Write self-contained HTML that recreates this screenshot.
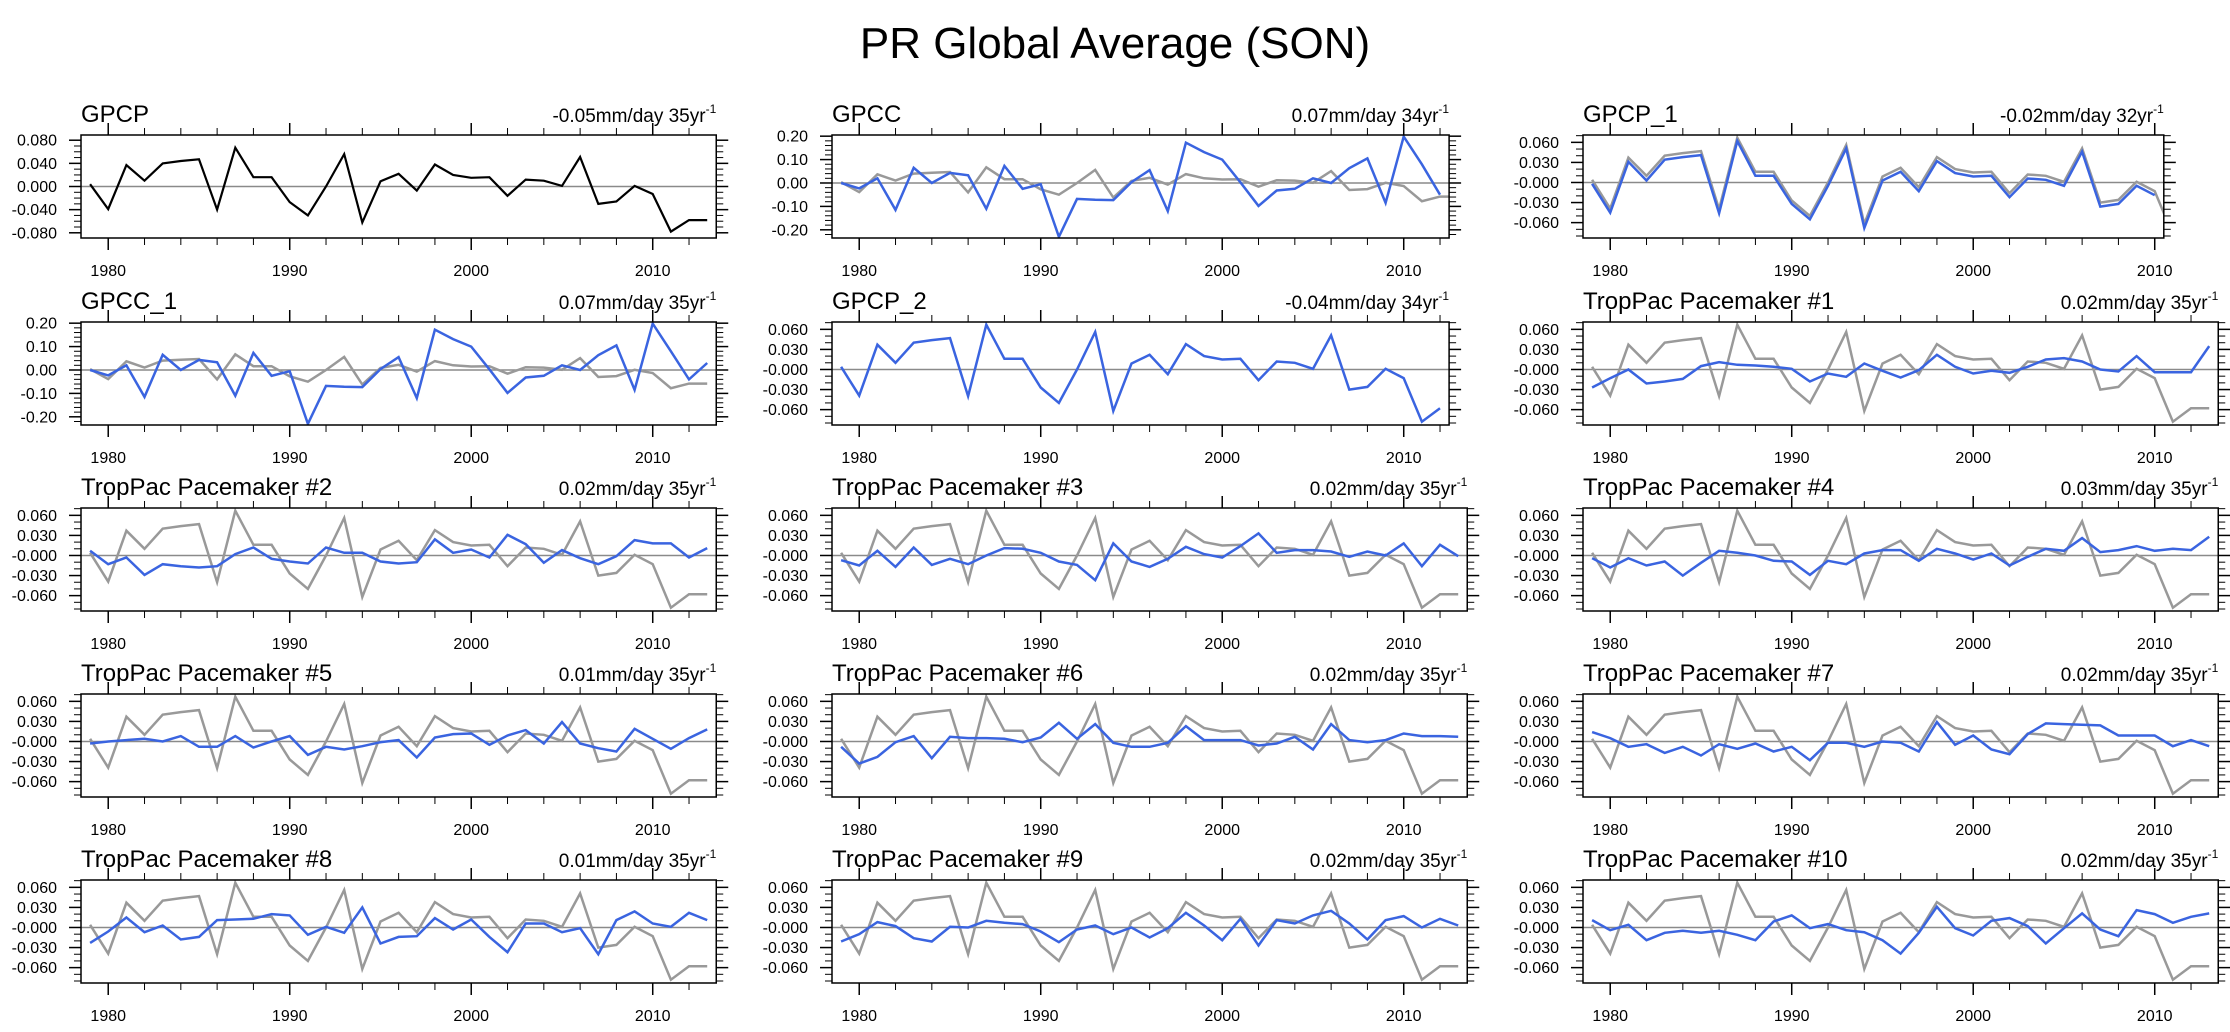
<!DOCTYPE html>
<html><head><meta charset="utf-8">
<style>
html,body{margin:0;padding:0;background:#fff;}
svg{display:block;font-family:"Liberation Sans",Arial,sans-serif;}
</style></head>
<body>
<svg id="fig" width="2230" height="1032" viewBox="0 0 2230 1032" xmlns="http://www.w3.org/2000/svg">
<text x="1115" y="58" text-anchor="middle" font-size="44">PR Global Average (SON)</text>
</svg>
<script>
const yearsStart = 1979;
const gpcp = [0.004,-0.039,0.037,0.010,0.040,0.044,0.047,-0.040,0.067,0.016,0.016,-0.027,-0.050,0.000,0.056,-0.062,0.009,0.022,-0.007,0.038,0.020,0.015,0.016,-0.016,0.012,0.010,0.001,0.051,-0.030,-0.026,0.001,-0.013,-0.078,-0.058,-0.058];
const gpcc = [0.000,-0.023,0.020,-0.115,0.065,0.000,0.043,0.033,-0.110,0.073,-0.025,-0.005,-0.230,-0.068,-0.072,-0.073,0.004,0.055,-0.120,0.172,0.132,0.100,0.003,-0.098,-0.032,-0.025,0.020,0.000,0.063,0.105,-0.085,0.198,0.080,-0.050];
const gpcc1 = [0.000,-0.023,0.020,-0.115,0.065,0.000,0.043,0.033,-0.110,0.073,-0.025,-0.005,-0.230,-0.068,-0.072,-0.073,0.004,0.055,-0.120,0.172,0.132,0.100,0.003,-0.098,-0.032,-0.025,0.020,0.000,0.063,0.105,-0.085,0.198,0.080,-0.040,0.030];
const gpcp1 = [-0.002,-0.045,0.031,0.003,0.034,0.038,0.041,-0.046,0.062,0.010,0.010,-0.032,-0.055,-0.005,0.051,-0.068,0.003,0.016,-0.013,0.032,0.014,0.009,0.010,-0.022,0.006,0.004,-0.005,0.046,-0.036,-0.032,-0.005,-0.019];
const gpcp2 = [0.004,-0.039,0.037,0.010,0.040,0.044,0.047,-0.040,0.067,0.016,0.016,-0.027,-0.050,0.000,0.056,-0.062,0.009,0.022,-0.007,0.038,0.020,0.015,0.016,-0.016,0.012,0.010,0.001,0.051,-0.030,-0.026,0.001,-0.013,-0.078,-0.058];
const pm1 = [-0.027,-0.013,0.000,-0.021,-0.018,-0.014,0.005,0.011,0.007,0.006,0.004,0.001,-0.018,-0.006,-0.011,0.009,-0.002,-0.012,-0.001,0.022,0.004,-0.006,-0.002,-0.005,0.004,0.015,0.017,0.012,0.000,-0.003,0.020,-0.004,-0.004,-0.004,0.035];
const pm2 = [0.007,-0.013,-0.003,-0.029,-0.013,-0.016,-0.018,-0.016,0.002,0.012,-0.005,-0.009,-0.012,0.012,0.004,0.004,-0.009,-0.012,-0.010,0.024,0.004,0.009,-0.003,0.031,0.017,-0.011,0.008,-0.004,-0.013,-0.001,0.023,0.018,0.018,-0.003,0.011];
const pm3 = [-0.007,-0.015,0.007,-0.017,0.012,-0.014,-0.005,-0.013,0.000,0.011,0.010,0.004,-0.009,-0.014,-0.037,0.018,-0.009,-0.017,-0.005,0.013,0.002,-0.003,0.014,0.033,0.004,0.008,0.008,0.006,-0.002,0.006,0.000,0.018,-0.016,0.016,-0.001];
const pm4 = [-0.004,-0.018,-0.004,-0.015,-0.009,-0.030,-0.011,0.007,0.004,0.000,-0.008,-0.009,-0.029,-0.008,-0.013,0.003,0.008,0.008,-0.008,0.010,0.003,-0.006,0.003,-0.015,-0.002,0.010,0.007,0.026,0.005,0.008,0.014,0.007,0.010,0.008,0.028];
const pm5 = [-0.003,0.000,0.002,0.004,0.000,0.008,-0.008,-0.008,0.008,-0.009,0.000,0.008,-0.020,-0.008,-0.012,-0.007,-0.001,0.002,-0.024,0.006,0.011,0.012,-0.005,0.009,0.017,-0.003,0.029,-0.003,-0.010,-0.015,0.019,0.004,-0.011,0.005,0.018];
const pm6 = [-0.008,-0.033,-0.023,-0.001,0.008,-0.025,0.007,0.005,0.005,0.004,-0.001,0.006,0.028,0.004,0.026,-0.002,-0.008,-0.008,-0.002,0.023,0.002,0.002,0.002,-0.006,-0.003,0.007,-0.012,0.026,0.002,-0.001,0.002,0.012,0.008,0.008,0.007];
const pm7 = [0.014,0.005,-0.008,-0.004,-0.017,-0.008,-0.021,-0.004,-0.011,-0.003,-0.015,-0.008,-0.028,-0.002,-0.002,-0.008,0.000,-0.002,-0.015,0.029,-0.005,0.009,-0.012,-0.019,0.011,0.027,0.026,0.025,0.024,0.009,0.009,0.009,-0.007,0.002,-0.007];
const pm8 = [-0.023,-0.006,0.015,-0.007,0.003,-0.018,-0.014,0.011,0.012,0.013,0.020,0.018,-0.011,0.001,-0.008,0.030,-0.024,-0.014,-0.013,0.014,-0.003,0.012,-0.014,-0.037,0.006,0.006,-0.007,-0.001,-0.040,0.011,0.024,0.006,0.001,0.022,0.011];
const pm9 = [-0.021,-0.010,0.008,0.002,-0.016,-0.021,0.001,0.000,0.010,0.007,0.005,-0.006,-0.022,-0.003,0.003,-0.010,0.000,-0.015,-0.001,0.022,0.003,-0.019,0.013,-0.027,0.011,0.006,0.018,0.025,0.006,-0.018,0.011,0.017,0.000,0.013,0.003];
const pm10 = [0.011,-0.004,0.004,-0.019,-0.008,-0.005,-0.008,-0.005,-0.011,-0.019,0.009,0.018,-0.001,0.005,-0.004,-0.007,-0.019,-0.039,-0.008,0.031,-0.001,-0.012,0.010,0.014,0.002,-0.024,-0.001,0.021,-0.003,-0.013,0.026,0.020,0.007,0.016,0.021];
const titles = ["GPCP","GPCC","GPCP_1","GPCC_1","GPCP_2","TropPac Pacemaker #1","TropPac Pacemaker #2","TropPac Pacemaker #3","TropPac Pacemaker #4","TropPac Pacemaker #5","TropPac Pacemaker #6","TropPac Pacemaker #7","TropPac Pacemaker #8","TropPac Pacemaker #9","TropPac Pacemaker #10"];
const trendText = ["-0.05mm/day 35","0.07mm/day 34","-0.02mm/day 32","0.07mm/day 35","-0.04mm/day 34","0.02mm/day 35","0.02mm/day 35","0.02mm/day 35","0.03mm/day 35","0.01mm/day 35","0.02mm/day 35","0.02mm/day 35","0.01mm/day 35","0.02mm/day 35","0.02mm/day 35"];
const nYears = [35,34,32,35,34,35,35,35,35,35,35,35,35,35,35];
const blueSeries = [null,gpcc,gpcp1,gpcc1,gpcp2,pm1,pm2,pm3,pm4,pm5,pm6,pm7,pm8,pm9,pm10];
const tickVals8 = [0.08,0.04,0,-0.04,-0.08];
const tickLbl8 = ["0.080","0.040","0.000","-0.040","-0.080"];
const tickVals2 = [0.2,0.1,0,-0.1,-0.2];
const tickLbl2 = ["0.20","0.10","0.00","-0.10","-0.20"];
const tickVals6 = [0.06,0.03,0,-0.03,-0.06];
const tickLbl6 = ["0.060","0.030","-0.000","-0.030","-0.060"];
const xTickYears = [1980,1990,2000,2010];

const NS = "http://www.w3.org/2000/svg";
const svg = document.getElementById("fig");
function mk(tag, attrs, parent){const e=document.createElementNS(NS,tag);for(const k in attrs)e.setAttribute(k,attrs[k]);(parent||svg).appendChild(e);return e;}

const colLeft = [81,832,1583];
const rowTop = [135,322,508,694,880];
const boxH = 103;
const pxYear = 18.15;

titles.forEach((t,i)=>{
  const col=i%3,row=Math.floor(i/3);
  const x0=colLeft[col], y0=rowTop[row], n=nYears[i];
  const w=n*pxYear;
  let ymin,ymax,tv,tl,minorStep;
  if(i===0){ymin=-0.089;ymax=0.089;tv=tickVals8;tl=tickLbl8;minorStep=0.01;}
  else if(i===1||i===3){ymin=-0.235;ymax=0.205;tv=tickVals2;tl=tickLbl2;minorStep=0.02;}
  else{ymin=-0.083;ymax=0.071;tv=tickVals6;tl=tickLbl6;minorStep=0.01;}
  const xs=yr=>x0+(yr-(yearsStart-0.5))*pxYear;
  const ys=v=>y0+(ymax-v)/(ymax-ymin)*boxH;
  const g=mk("g",{});
  
  
  const tt=mk("text",{x:x0,y:y0-13,"font-size":24},g);tt.textContent=t;
  
  
  const tr=mk("text",{x:x0+w,y:y0-13,"font-size":19,"text-anchor":"end"},g);
  
  
  tr.appendChild(document.createTextNode(trendText[i]+"yr"));
  const sup=mk("tspan",{dy:-9,"font-size":12},tr);sup.textContent="-1";
  // clip
  const cid="clip"+i;
  const cp=mk("clipPath",{id:cid},g);mk("rect",{x:x0,y:y0,width:w,height:boxH},cp);
  // zero line
  const zl=mk("line",{x1:x0,x2:x0+w,y1:ys(0),y2:ys(0),stroke:"#8a8a8a","stroke-width":1.5},g);
  
  
  // y ticks
  const nMin=Math.round((ymax-ymin)/minorStep)+2;
  for(let k=-30;k<=30;k++){
    const v=k*minorStep; if(v<ymin-1e-9||v>ymax+1e-9)continue;
    const isMaj=tv.some(q=>Math.abs(q-v)<1e-9);
    const L=isMaj?12:7;
    mk("line",{x1:x0-L,x2:x0,y1:ys(v),y2:ys(v),stroke:"#000","stroke-width":isMaj?1.5:1},g);
    mk("line",{x1:x0+w,x2:x0+w+L,y1:ys(v),y2:ys(v),stroke:"#000","stroke-width":isMaj?1.5:1},g);
  }
  tv.forEach((v,k)=>{
    const lb=mk("text",{x:x0-24,y:ys(v)+5.5,"font-size":16,"text-anchor":"end"},g);
    lb.textContent=tl[k];
    
    
  });
  // x ticks
  for(let yr=1978;yr<=yearsStart+n;yr+=2){
    const x=xs(yr); if(x<x0-0.5||x>x0+w+0.5)continue;
    const isMaj=yr%10===0;const L=isMaj?12:7;
    mk("line",{x1:x,x2:x,y1:y0-L,y2:y0,stroke:"#000","stroke-width":isMaj?1.5:1},g);
    mk("line",{x1:x,x2:x,y1:y0+boxH,y2:y0+boxH+L,stroke:"#000","stroke-width":isMaj?1.5:1},g);
  }
  xTickYears.forEach(yr=>{
    const x=xs(yr); if(x>x0+w+1)return;
    const lb=mk("text",{x:x,y:y0+boxH+38,"font-size":16,"text-anchor":"middle"},g);
    lb.textContent=String(yr);
    
    
  });
  // series
  const path=arr=>arr.map((v,k)=>(k?"L":"M")+xs(yearsStart+k).toFixed(1)+","+ys(v).toFixed(1)).join("");
  if(i===0){
    const p=mk("path",{d:path(gpcp),fill:"none",stroke:"#000","stroke-width":2.2,"clip-path":"url(#"+cid+")"},g);
    
    
  } else {
    if(i!==4){
      const p=mk("path",{d:path(gpcp),fill:"none",stroke:"#999","stroke-width":2.5,"clip-path":"url(#"+cid+")"},g);
      
      
    }
    const b=mk("path",{d:path(blueSeries[i]),fill:"none",stroke:"#3a64e0","stroke-width":2.5,"clip-path":"url(#"+cid+")"},g);
    
    
  }
  const box=mk("rect",{x:x0,y:y0,width:w,height:boxH,fill:"none",stroke:"#000","stroke-width":1.5},g);
  
  
});
</script>
</body></html>
